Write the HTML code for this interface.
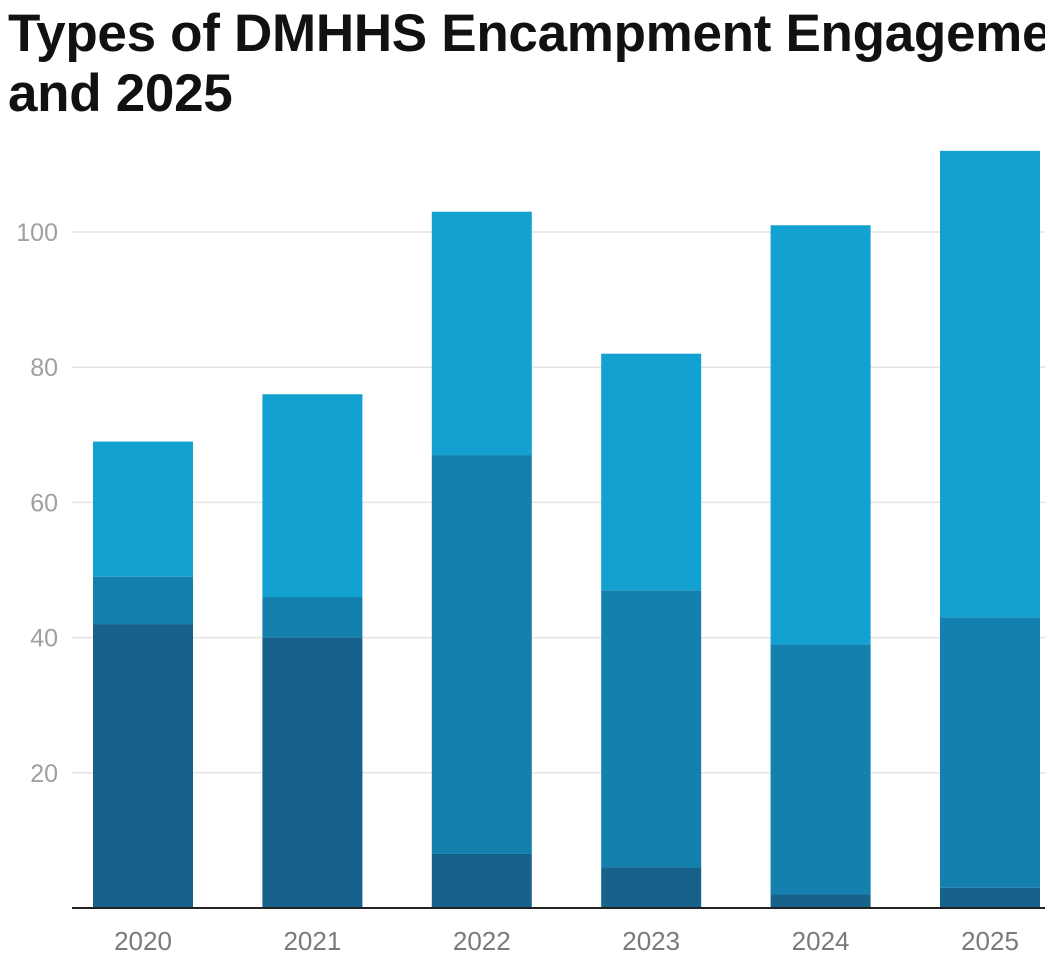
<!DOCTYPE html>
<html><head><meta charset="utf-8"><style>
html,body{margin:0;padding:0;background:#fff;width:1045px;height:971px;overflow:hidden}
.title{position:absolute;left:8px;top:4px;width:1037px;overflow:hidden;font-family:"Liberation Sans",sans-serif;font-weight:bold;font-size:53px;line-height:60px;color:#111;white-space:nowrap;letter-spacing:-0.3px}
svg{position:absolute;left:0;top:0}
text{font-family:"Liberation Sans",sans-serif}
</style></head><body>
<div class="title">Types of DMHHS Encampment Engagements<br>and 2025</div>
<svg id="chart" width="1045" height="971"></svg>
<script>
const categories=["2020","2021","2022","2023","2024","2025"];
const seriesBottom=[42,40,8,6,2,3];
const seriesMiddle=[7,6,59,41,37,40];
const seriesTop=[20,30,36,35,62,69];
const yTicks=[20,40,60,80,100];
const colors=["#16628b","#1380ad","#13a1d1"];
const svg=document.getElementById('chart');
const NS='http://www.w3.org/2000/svg';
const y0=908,pxPer=6.76;
function y(v){return y0-v*pxPer;}
function x(i){return 93+i*169.4;}
const bw=100;
function mk(tag,attrs){const e=document.createElementNS(NS,tag);for(const k in attrs)e.setAttribute(k,attrs[k]);svg.appendChild(e);return e;}
yTicks.forEach(t=>{
  const l=mk('line',{x1:72,x2:1045,y1:y(t),y2:y(t),stroke:'#e4e4e4','stroke-width':1.5});
  
  
  const tx=mk('text',{x:58,y:y(t)+9,'text-anchor':'end','font-size':25,fill:'#a0a0a0'});
  tx.textContent=t;
  
  
});
const series=[seriesBottom,seriesMiddle,seriesTop];
const names=['bottom','middle','top'];
categories.forEach((c,i)=>{
  let base=0;
  series.forEach((s,j)=>{
    const v=s[i];
    const r=mk('rect',{x:x(i),y:y(base+v),width:bw,height:v*pxPer,fill:colors[j]});
    
    
    base+=v;
  });
  const tx=mk('text',{x:x(i)+bw/2,y:950,'text-anchor':'middle','font-size':26,fill:'#7a7a7a'});
  tx.textContent=c;
  
  
});
const ax=mk('line',{x1:72,x2:1045,y1:y0,y2:y0,stroke:'#222','stroke-width':2});


</script>
</body></html>
